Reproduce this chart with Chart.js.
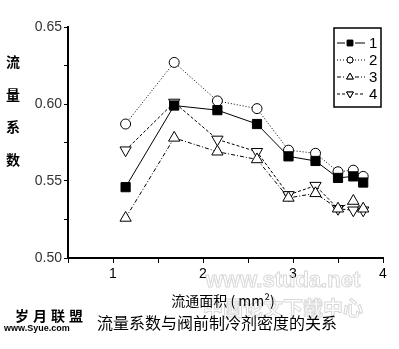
<!DOCTYPE html>
<html>
<head>
<meta charset="utf-8">
<script src="https://cdn.jsdelivr.net/npm/chart.js@4/dist/chart.umd.min.js"></script>
<style>
  html, body { margin: 0; padding: 0; background: #fff; }
  #wrap { width: 399px; height: 349px; position: relative; }
</style>
</head>
<body>
<div id="wrap"><canvas id="myChart" width="399" height="349"></canvas></div>
<script>
// flow area (mm2)
var area = [1.14, 1.68, 2.16, 2.60, 2.95, 3.25, 3.50, 3.67, 3.78];

var labels = ["1", "2", "3", "4"];
var series1 = [0.546, 0.599, 0.596, 0.587, 0.566, 0.563, 0.552, 0.553, 0.549];
var series2 = [0.587, 0.627, 0.602, 0.597, 0.570, 0.568, 0.556, 0.557, 0.553];
var series3 = [0.526, 0.578, 0.569, 0.564, 0.539, 0.542, 0.532, 0.537, 0.532];
var series4 = [0.570, 0.601, 0.577, 0.569, 0.541, 0.547, 0.532, 0.531, 0.531];

var yTitle = ["流", "量", "系", "数"];
var xTitle = "流通面积 ( mm²)";
var caption = "流量系数与阀前制冷剂密度的关系";

function points(ys) {
	return ys.map(function (y, i) {
		return { x: area[i], y: y };
	});
}

var cjk = "'Noto Sans CJK SC', sans-serif";
var latin = "'Liberation Sans', Arial, sans-serif";

// legend box, y axis title and captions
var extras = {
	id: "extras",
	afterDraw: function (chart) {
		var ctx = chart.ctx;
		ctx.save();

		// faint watermarks
		ctx.strokeStyle = "#d8d8d8";
		ctx.lineWidth = 1;
		ctx.font = "bold 22px " + latin;
		ctx.textAlign = "center";
		ctx.textBaseline = "middle";
		ctx.strokeText("www.studa.net", 283, 281);
		ctx.font = "bold 20px " + cjk;
		ctx.strokeText("中国论文下载中心", 283, 308);

		ctx.fillStyle = "#000";
		ctx.font = "bold 14px " + cjk;
		yTitle.forEach(function (c, i) {
			ctx.fillText(c, 13, 62 + i * 32.5);
		});

		ctx.font = "14px " + cjk;
		ctx.fillText(xTitle, 223, 301);

		ctx.font = "16px " + cjk;
		ctx.textAlign = "left";
		ctx.fillText(caption, 97, 323);

		ctx.font = "bold 14px " + cjk;
		ctx.letterSpacing = "4px";
		ctx.fillText("岁月联盟", 15, 316);
		ctx.letterSpacing = "0px";
		ctx.font = "bold 9px " + latin;
		ctx.fillText("www.Syue.com", 4, 329);

		// legend
		var bx = 334, by = 28, bw = 47, bh = 79;
		ctx.lineWidth = 1.5;
		ctx.strokeStyle = "#000";
		ctx.strokeRect(bx, by, bw, bh);
		chart.data.datasets.forEach(function (ds, i) {
			var y = 43 + i * 17;
			ctx.lineWidth = 1;
			ctx.setLineDash(ds.borderDash || []);
			ctx.beginPath();
			ctx.moveTo(337, y);
			ctx.lineTo(345, y);
			ctx.moveTo(355, y);
			ctx.lineTo(365, y);
			ctx.stroke();
			ctx.setLineDash([]);
			Chart.helpers.drawPoint(ctx, {
				pointStyle: ds.pointStyle,
				rotation: ds.rotation || 0,
				radius: ds.pointRadius * 0.6,
				borderWidth: 1
			}, 350, y);
			ctx.fillStyle = ds.pointBackgroundColor;
			ctx.fill();
			ctx.stroke();
			ctx.fillStyle = "#000";
			ctx.font = "15px " + latin;
			ctx.textAlign = "left";
			ctx.fillText(ds.label, 369, y + 1);
		});
		ctx.restore();
	}
};

function dataset(label, ys, style, fill, dash, radius, rotation) {
	return {
		label: label,
		data: points(ys),
		borderColor: "#000",
		borderWidth: 1,
		borderDash: dash,
		pointStyle: style,
		rotation: rotation,
		pointRadius: radius,
		pointHoverRadius: radius,
		pointBackgroundColor: fill,
		pointBorderColor: "#000",
		pointBorderWidth: 1,
		tension: 0
	};
}

var config = {
	type: "line",
	data: {
		datasets: [
			dataset(labels[0], series1, "rect", "#000", [], 6.5, 0),
			dataset(labels[1], series2, "circle", "#fff", [1, 2], 5, 0),
			dataset(labels[2], series3, "triangle", "#fff", [4, 2, 1, 2], 6.5, 0),
			dataset(labels[3], series4, "triangle", "#fff", [3, 2], 6.5, 180)
		]
	},
	options: {
		responsive: false,
		animation: false,
		events: [],
		layout: { padding: { left: 0, top: 27, right: 16, bottom: 61 } },
		plugins: {
			legend: { display: false },
			tooltip: { enabled: false }
		},
		scales: {
			x: {
				type: "linear",
				min: 0.5,
				max: 4,
				afterFit: function (scale) { scale.height = 30; },
				ticks: {
					stepSize: 0.5,
					color: "#000",
					padding: 3,
					font: { family: latin, size: 14 },
					callback: function (v) {
						return Number.isInteger(v) ? String(v) : "";
					}
				},
				grid: { drawOnChartArea: false, drawTicks: true, tickLength: 5, color: "#000" },
				border: { color: "#000", width: 2 }
			},
			y: {
				min: 0.5,
				max: 0.65,
				afterFit: function (scale) { scale.width = 68; },
				ticks: {
					stepSize: 0.025,
					color: "#333",
					padding: 2,
					font: { family: latin, size: 14 },
					callback: function (v) {
						var k = v * 20;
						return Math.abs(k - Math.round(k)) < 1e-6 ? v.toFixed(2) : "";
					}
				},
				grid: { drawOnChartArea: false, drawTicks: true, tickLength: 4, color: "#000" },
				border: { color: "#000", width: 2 }
			}
		}
	},
	plugins: [extras]
};

const myChart = new Chart(document.getElementById("myChart"), config);
</script>
</body>
</html>
